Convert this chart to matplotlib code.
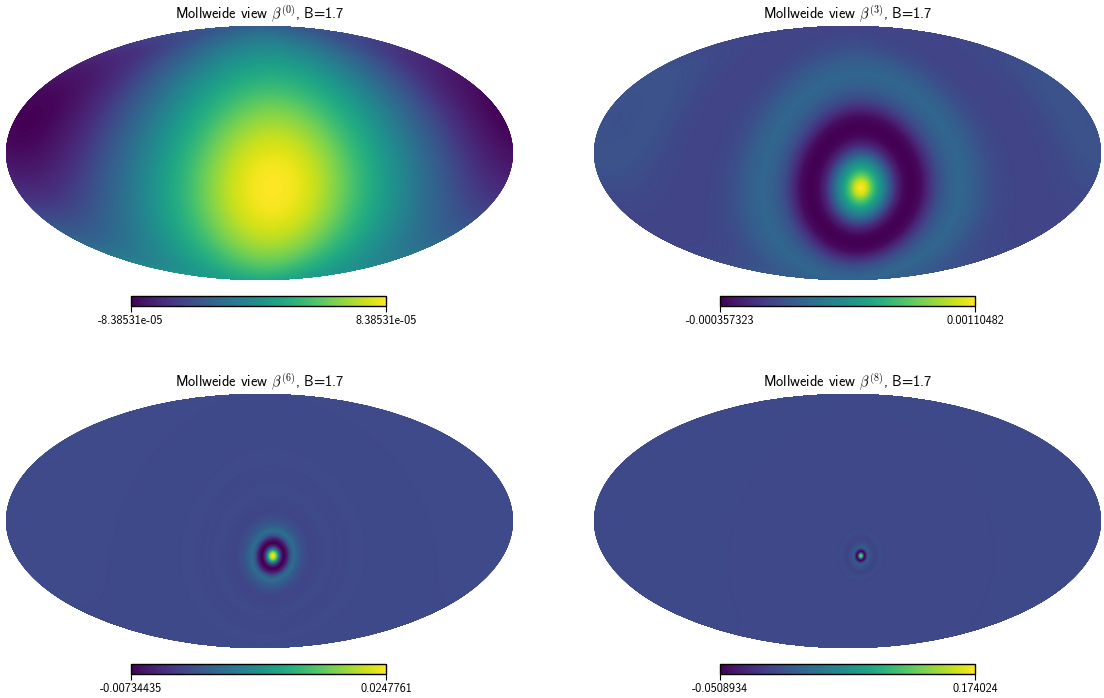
import numpy as np
import matplotlib
matplotlib.use("Agg")
import matplotlib.pyplot as plt

plt.rcParams['font.family'] = ['cmss10', 'DejaVu Sans']
plt.rcParams['mathtext.fontset'] = 'cm'
plt.rcParams['axes.unicode_minus'] = False

# Map titles and colour limits
titles = [r"Mollweide view $\beta^{(0)}$, B=1.7", r"Mollweide view $\beta^{(3)}$, B=1.7",
          r"Mollweide view $\beta^{(6)}$, B=1.7", r"Mollweide view $\beta^{(8)}$, B=1.7"]
vmins = [-8.38531e-05, -0.000357323, -0.00734435, -0.0508934]
vmaxs = [8.38531e-05, 0.00110482, 0.0247761, 0.174024]
low_labels = ["-8.38531e-05", "-0.000357323", "-0.00734435", "-0.0508934"]
high_labels = ["8.38531e-05", "0.00110482", "0.0247761", "0.174024"]

# Needlet centre on the sky (degrees)
centre_lon = 10.0
centre_lat = -20.0

# Radial profiles: angular distance (deg), position on the colour scale (0-1)
dist_0 = [0, 15, 30, 45, 60, 75, 90, 105, 120, 135, 150, 165, 180]
level_0 = [1.0, 0.98, 0.91, 0.80, 0.67, 0.56, 0.45, 0.34, 0.24, 0.14, 0.07, 0.02, 0.0]
dist_3 = [0, 4, 8, 12, 16, 20, 25, 30, 35, 41, 47, 53, 60, 68, 78, 90, 105, 120, 135, 150, 165, 180]
level_3 = [1.0, 0.93, 0.73, 0.57, 0.44, 0.28, 0.11, 0.02, 0.0, 0.03, 0.14, 0.24, 0.30, 0.33, 0.29, 0.23, 0.20, 0.20, 0.22, 0.25, 0.25, 0.24]
dist_6 = [0, 1.5, 2.5, 4, 5.5, 7.5, 10, 12, 14.5, 18, 22, 27, 33, 39, 46, 55, 65, 180]
level_6 = [1.0, 0.92, 0.78, 0.45, 0.15, 0.0, 0.1, 0.28, 0.37, 0.29, 0.24, 0.21, 0.225, 0.232, 0.22, 0.23, 0.227, 0.228]
dist_8 = [0, 1, 2, 2.8, 4, 5, 7, 10, 13, 17, 180]
level_8 = [0.85, 0.68, 0.15, 0.0, 0.2, 0.31, 0.25, 0.205, 0.236, 0.222, 0.226]

dists = [dist_0, dist_3, dist_6, dist_8]
levels = [level_0, level_3, level_6, level_8]

W, H = 1104, 698
fig = plt.figure(figsize=(W / 100, H / 100), dpi=100)

lon = np.radians(np.linspace(-180, 180, 1201))
lat = np.radians(np.linspace(-90, 90, 601))
LON, LAT = np.meshgrid(lon, lat)
c_lon, c_lat = np.radians(centre_lon), np.radians(centre_lat)
cosd = np.sin(LAT) * np.sin(c_lat) + np.cos(LAT) * np.cos(c_lat) * np.cos(LON - c_lon)
angle = np.degrees(np.arccos(np.clip(cosd, -1, 1)))

boxes = [(6, 26), (594, 26), (6, 394), (594, 394)]
bars = [(131, 296), (720, 296), (131, 664), (720, 664)]

for i in range(4):
    x0, y0 = boxes[i]
    ax = fig.add_axes([x0 / W, 1 - (y0 + 253.5) / H, 507 / W, 253.5 / H], projection='mollweide')
    radial = np.linspace(0, 180, 3601)
    prof = np.interp(radial, dists[i], levels[i])
    sig = [40, 12, 4, 1.5][i]
    k = np.exp(-0.5 * (np.arange(-120, 121) / sig) ** 2)
    k /= k.sum()
    pad = np.concatenate([prof[120:0:-1], prof, prof[-2:-122:-1]])
    prof = np.convolve(pad, k, mode='valid')
    prof = (prof - prof.min()) / (prof.max() - prof.min())
    if i == 3:
        prof = prof * 0.85
    vals = vmins[i] + np.interp(angle, radial, prof) * (vmaxs[i] - vmins[i])
    mesh = ax.pcolormesh(lon, lat, vals, cmap='viridis', vmin=vmins[i], vmax=vmaxs[i],
                         shading='gouraud', rasterized=True)
    ax.grid(False)
    ax.set_xticklabels([])
    ax.set_yticklabels([])
    ax.tick_params(length=0)
    for s in ax.spines.values():
        s.set_visible(False)
    ax.set_title(titles[i], fontsize=10.4, pad=5)

    bx, by = bars[i]
    cax = fig.add_axes([bx / W, 1 - (by + 10) / H, 255 / W, 10 / H])
    cb = fig.colorbar(mesh, cax=cax, orientation='horizontal', ticks=[vmins[i], vmaxs[i]])
    cb.set_ticklabels([low_labels[i], high_labels[i]])
    cb.ax.tick_params(length=4, width=0.8, labelsize=8.8, pad=2.5)
    cb.ax.minorticks_off()
    cb.outline.set_linewidth(1.0)

fig.savefig("out.png", dpi=100)
